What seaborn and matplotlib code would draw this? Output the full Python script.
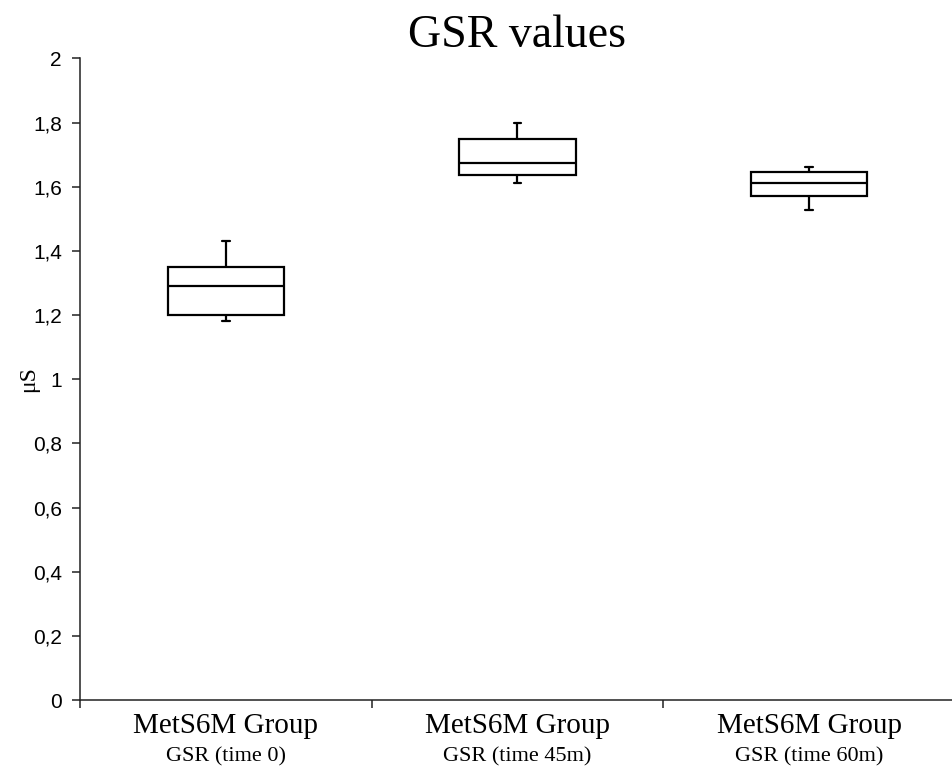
from matplotlib import pyplot as plt
import pandas as pd
import seaborn as sns
import numpy as np

##### Box plot summary points (min, Q1, median, Q3, max)
groups = ['time 0', 'time 45m', 'time 60m']
gsr_time0 = [1.18, 1.20, 1.29, 1.35, 1.43]
gsr_time45 = [1.61, 1.635, 1.675, 1.75, 1.80]
gsr_time60 = [1.526, 1.572, 1.61, 1.645, 1.661]
top_labels = ['MetS6M Group', 'MetS6M Group', 'MetS6M Group']
sub_labels = ['GSR (time 0)', 'GSR (time 45m)', 'GSR (time 60m)']
y_ticks = [0, 0.2, 0.4, 0.6, 0.8, 1, 1.2, 1.4, 1.6, 1.8, 2]

df = pd.DataFrame({
    'Group': np.repeat(groups, 5),
    'GSR': gsr_time0 + gsr_time45 + gsr_time60,
})

sns.set_style('ticks', {'text.color': 'black', 'axes.labelcolor': 'black'})
plt.rcParams['font.family'] = ['Liberation Sans', 'DejaVu Sans']

fig = plt.figure(figsize=(9.53, 7.74), dpi=100)
ax = fig.add_axes([0.084, 0.0956, 0.918, 0.829])

sns.boxplot(data=df, x='Group', y='GSR', ax=ax, whis=(0, 100), width=0.4,
            color='white', linecolor='black', linewidth=1.6,
            capwidths=0.025, showfliers=False)

ax.set_ylim(0, 2)
ax.set_xlim(-0.5, 2.5)
ax.set_yticks(y_ticks)
ax.set_yticklabels([('%g' % v).replace('.', ',') for v in y_ticks], fontsize=15)
ax.tick_params(axis='y', length=6, width=1.1, pad=7, colors='#222222', labelcolor='black')

# category boundaries carry the ticks, labels sit in the middle
ax.set_xticks([0, 1, 2])
ax.set_xticklabels(top_labels, fontsize=21, family='Liberation Serif', color='black')
ax.tick_params(axis='x', which='major', length=0, pad=9)
ax.set_xticks([-0.5, 0.5, 1.5, 2.5], minor=True)
ax.tick_params(axis='x', which='minor', length=6, width=1.1, colors='#222222')
for i, lab in enumerate(sub_labels):
    ax.text(i, -0.088, lab, transform=ax.get_xaxis_transform(), ha='center', va='center',
            fontsize=16, family='Liberation Serif', color='black')

ax.set_xlabel('')
ax.set_ylabel('μS', fontsize=17, family='Liberation Serif', color='black')
ax.yaxis.set_label_coords(-0.047, 0.5)
ax.set_title('GSR values', fontsize=33, family='Liberation Serif', pad=8, color='black')

sns.despine(ax=ax)
for side in ['left', 'bottom']:
    ax.spines[side].set_linewidth(1.1)
    ax.spines[side].set_color('#222222')

plt.savefig('out.png', dpi=100)
